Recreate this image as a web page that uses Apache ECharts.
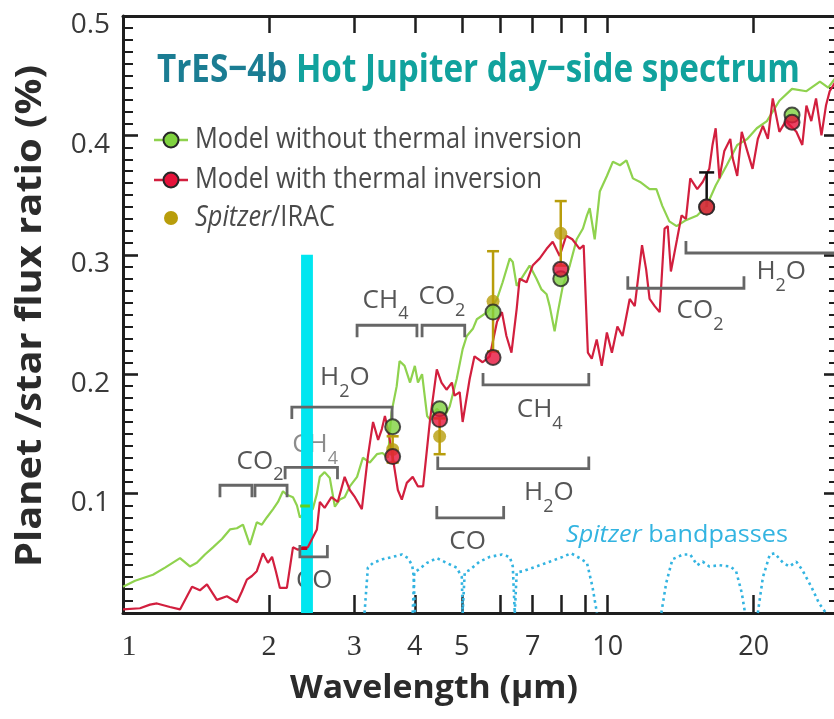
<!DOCTYPE html>
<html>
<head>
<meta charset="utf-8">
<script src="https://cdn.jsdelivr.net/npm/echarts@6/dist/echarts.min.js"></script>
<style>
  html, body { margin: 0; padding: 0; background: #fff; }
  #chart { width: 834px; height: 719px; }
</style>
</head>
<body>
<div id="chart"></div>
<script>
// ---- Model spectra: wavelength (µm) and planet/star flux ratio (%) ----
const noInvWl = [1.00, 1.059, 1.153, 1.221, 1.311, 1.374, 1.420, 1.476, 1.533, 1.600, 1.662, 1.718, 1.768, 1.827, 1.888, 1.934, 1.980, 2.040, 2.088, 2.138, 2.178, 2.242, 2.285, 2.317, 2.384, 2.463, 2.512, 2.547, 2.606, 2.671, 2.736, 2.801, 2.866, 2.937, 3.04, 3.125, 3.23, 3.34, 3.43, 3.52, 3.58, 3.67, 3.72, 3.81, 3.91, 4.00, 4.06, 4.14, 4.24, 4.30, 4.44, 4.61, 4.72, 4.88, 5.02, 5.12, 5.27, 5.37, 5.64, 5.91, 6.07, 6.28, 6.37, 6.49, 6.68, 6.90, 7.13, 7.30, 7.48, 7.59, 7.77, 7.89, 8.08, 8.35, 8.63, 8.89, 9.06, 9.18, 9.40, 9.63, 9.96, 10.25, 10.6, 10.93, 11.27, 11.66, 12.2, 12.6, 12.96, 13.4, 13.87, 14.5, 15.3, 16.0, 16.7, 17.6, 18.5, 19.4, 20.3, 21.3, 22.6, 24.0, 25.7, 27.4, 28.5, 30];
const noInvFlux = [0.022, 0.027, 0.032, 0.038, 0.046, 0.039, 0.042, 0.049, 0.055, 0.062, 0.070, 0.071, 0.074, 0.057, 0.076, 0.074, 0.080, 0.087, 0.093, 0.102, 0.099, 0.097, 0.090, 0.080, 0.085, 0.087, 0.100, 0.114, 0.118, 0.113, 0.089, 0.095, 0.097, 0.106, 0.114, 0.130, 0.126, 0.133, 0.134, 0.130, 0.168, 0.190, 0.211, 0.207, 0.193, 0.207, 0.193, 0.200, 0.165, 0.162, 0.171, 0.165, 0.173, 0.196, 0.221, 0.232, 0.238, 0.246, 0.252, 0.263, 0.277, 0.297, 0.294, 0.274, 0.282, 0.291, 0.280, 0.271, 0.267, 0.257, 0.236, 0.252, 0.274, 0.291, 0.313, 0.322, 0.333, 0.339, 0.313, 0.353, 0.366, 0.378, 0.375, 0.379, 0.364, 0.361, 0.355, 0.355, 0.341, 0.328, 0.324, 0.329, 0.333, 0.341, 0.358, 0.375, 0.392, 0.397, 0.406, 0.412, 0.429, 0.439, 0.437, 0.445, 0.440, 0.452];

const invWl = [1.00, 1.084, 1.137, 1.175, 1.250, 1.311, 1.388, 1.441, 1.490, 1.562, 1.638, 1.718, 1.759, 1.801, 1.845, 1.888, 1.944, 1.991, 2.030, 2.067, 2.107, 2.178, 2.242, 2.296, 2.350, 2.406, 2.512, 2.547, 2.606, 2.692, 2.773, 2.866, 2.937, 3.01, 3.11, 3.20, 3.28, 3.36, 3.42, 3.47, 3.52, 3.60, 3.69, 3.76, 3.85, 3.96, 4.06, 4.16, 4.30, 4.44, 4.54, 4.65, 4.77, 4.83, 4.95, 5.02, 5.19, 5.31, 5.52, 5.71, 5.91, 6.05, 6.18, 6.33, 6.49, 6.58, 6.80, 7.00, 7.24, 7.48, 7.70, 7.96, 8.21, 8.45, 8.75, 8.92, 9.10, 9.27, 9.49, 9.72, 9.96, 10.2, 10.47, 10.73, 11.1, 11.37, 11.77, 12.0, 12.2, 12.5, 12.8, 13.1, 13.3, 13.5, 13.9, 14.2, 14.5, 14.8, 15.3, 15.7, 16.2, 16.45, 16.7, 17.0, 17.4, 17.9, 18.1, 18.5, 18.9, 19.4, 19.9, 20.4, 20.9, 21.4, 21.9, 22.6, 23.3, 24.5, 25.2, 25.7, 26.3, 26.9, 27.6, 28.2, 28.7, 30];
const invFlux = [0.003, 0.004, 0.007, 0.008, 0.005, 0.003, 0.022, 0.019, 0.024, 0.011, 0.014, 0.009, 0.018, 0.028, 0.031, 0.035, 0.050, 0.042, 0.047, 0.035, 0.021, 0.021, 0.055, 0.053, 0.055, 0.055, 0.070, 0.093, 0.088, 0.097, 0.093, 0.114, 0.103, 0.097, 0.087, 0.131, 0.160, 0.145, 0.154, 0.165, 0.154, 0.131, 0.103, 0.095, 0.109, 0.114, 0.106, 0.106, 0.162, 0.204, 0.193, 0.187, 0.193, 0.182, 0.185, 0.160, 0.196, 0.215, 0.210, 0.215, 0.244, 0.252, 0.232, 0.218, 0.255, 0.280, 0.277, 0.291, 0.297, 0.305, 0.311, 0.299, 0.316, 0.313, 0.305, 0.308, 0.218, 0.213, 0.229, 0.207, 0.235, 0.218, 0.240, 0.232, 0.263, 0.257, 0.308, 0.288, 0.263, 0.257, 0.252, 0.322, 0.324, 0.286, 0.313, 0.333, 0.330, 0.364, 0.355, 0.361, 0.372, 0.392, 0.406, 0.364, 0.387, 0.397, 0.381, 0.366, 0.403, 0.387, 0.372, 0.397, 0.408, 0.397, 0.431, 0.403, 0.412, 0.403, 0.392, 0.425, 0.412, 0.431, 0.400, 0.425, 0.437, 0.450];

// ---- Band-averaged model points ----
const bandWl = [3.6, 4.5, 5.8, 8.0, 16, 24];
const bandNoInv = [0.156, 0.171, 0.252, 0.280, 0.340, 0.417];
const bandInv = [0.131, 0.162, 0.214, 0.288, 0.340, 0.411];

// ---- Spitzer/IRAC eclipse depths (%) with 1σ errors ----
const iracWl = [3.6, 4.5, 5.8, 8.0];
const iracFlux = [0.137, 0.148, 0.261, 0.318];
const iracErr = [0.011, 0.015, 0.042, 0.027];

// 16 µm point: upper error bar end (%)
const irsWl = 16;
const irsTop = 0.369;

// K-band window and model averages inside it
const kBand = [2.33, 2.465, 0.30];
const kNoInv = 0.0896;
const kInv = 0.054;

// ---- Spitzer bandpass shapes (scaled response) ----
const pass1Wl = [3.15, 3.20, 3.28, 3.43, 3.60, 3.76, 3.87, 3.95, 3.98, 4.00];
const pass1 = [0, 0.038, 0.042, 0.045, 0.047, 0.049, 0.046, 0.040, 0.030, 0];
const pass2Wl = [3.96, 3.99, 4.06, 4.24, 4.44, 4.65, 4.88, 5.00, 5.02];
const pass2 = [0, 0.034, 0.036, 0.042, 0.046, 0.042, 0.038, 0.030, 0];
const pass3Wl = [5.02, 5.07, 5.19, 5.44, 5.71, 6.05, 6.28, 6.37, 6.43];
const pass3 = [0, 0.034, 0.036, 0.043, 0.047, 0.049, 0.047, 0.039, 0];
const pass4Wl = [6.43, 6.49, 6.68, 7.13, 7.59, 8.08, 8.40, 8.75, 9.06, 9.30, 9.50];
const pass4 = [0, 0.034, 0.035, 0.039, 0.043, 0.047, 0.050, 0.046, 0.042, 0.022, 0];
const pass5Wl = [12.9, 13.2, 13.6, 14.3, 14.8, 15.3, 15.7, 16.2, 17.0, 17.9, 18.4, 18.9, 19.2];
const pass5 = [0, 0.025, 0.045, 0.049, 0.049, 0.040, 0.043, 0.039, 0.040, 0.039, 0.035, 0.017, 0];
const pass6Wl = [20.4, 20.9, 21.6, 22.1, 23.0, 23.7, 24.5, 25.2, 26.3, 27.3, 28.2];
const pass6 = [0, 0.030, 0.049, 0.050, 0.042, 0.039, 0.043, 0.036, 0.022, 0.008, 0];

// ---- Molecular absorption features: [label, from µm, to µm, level %, 1 = hooks down / -1 = hooks up] ----
const features = [
  ['CO_2', 1.585, 1.845, 0.107, 1],
  ['CO_2', 1.872, 2.18, 0.107, 1],
  ['CH_4', 2.16, 2.77, 0.122, 1],
  ['H_2O', 2.23, 3.59, 0.1725, 1],
  ['CH_4', 3.04, 4.04, 0.241, 1],
  ['CO_2', 4.14, 5.07, 0.241, 1],
  ['CH_4', 5.53, 9.14, 0.191, -1],
  ['H_2O', 4.46, 9.14, 0.121, -1],
  ['CO', 4.44, 6.1, 0.0796, -1],
  ['CO', 2.317, 2.64, 0.047, -1],
  ['CO_2', 11.0, 19.1, 0.272, -1],
  ['H_2O', 14.5, 31, 0.3015, -1]
];
// feature labels: [text, wavelength µm, flux %]
const featureLabels = [
  ['CO_2', 1.917, 0.127], ['CH_4', 2.49, 0.141], ['H_2O', 2.87, 0.197],
  ['CH_4', 3.48, 0.262], ['CO_2', 4.55, 0.265], ['CH_4', 7.24, 0.170],
  ['H_2O', 7.56, 0.1005], ['CO', 5.14, 0.0595], ['CO', 2.48, 0.027],
  ['CO_2', 15.5, 0.253], ['H_2O', 22.8, 0.286]
];

// ---- Axis ticks and labels ----
const xTicks = [2, 3, 4, 5, 6, 7, 8, 9, 10, 20, 30];
const xLabels = [1, 2, 3, 4, 5, 7, 10, 20];

const FONT = '"Open Sans", "Noto Sans", sans-serif';
const GREEN = '#8fd24e';
const RED = '#d21f3e';
const OLIVE = '#b89d0b';
const CYAN = '#00e6f0';
const PASS = '#33b4e1';
const GRAY = '#666666';
const INK = '#1e1e1e';

const zip = (a, b) => a.map((v, i) => [v, b[i]]);

const chart = echarts.init(document.getElementById('chart'), null, { renderer: 'canvas' });

function passSeries(wl, resp) {
  return {
    type: 'line', data: zip(wl, resp), symbol: 'none', silent: true, z: 2,
    lineStyle: { color: PASS, width: 2.6, type: [2.6, 3.6], cap: 'butt' }
  };
}

function errRender(color, capHalf) {
  return function (params, api) {
    const x = api.value(0), lo = api.value(1), hi = api.value(2), lowCap = api.value(3);
    const p0 = api.coord([x, lo]), p1 = api.coord([x, hi]);
    const st = { stroke: color, lineWidth: 2.5 };
    const kids = [
      { type: 'line', shape: { x1: p0[0], y1: p0[1], x2: p1[0], y2: p1[1] }, style: st },
      { type: 'line', shape: { x1: p1[0] - capHalf, y1: p1[1], x2: p1[0] + capHalf, y2: p1[1] }, style: st }
    ];
    if (lowCap) kids.push({ type: 'line', shape: { x1: p0[0] - capHalf, y1: p0[1], x2: p0[0] + capHalf, y2: p0[1] }, style: st });
    return { type: 'group', children: kids };
  };
}

function yAxisOf(position, labels) {
  return {
    type: 'value', min: 0, max: 0.5, interval: 0.1, position: position,
    axisLine: { show: true, onZero: false, lineStyle: { color: INK, width: 3 } },
    axisTick: { show: true, inside: true, length: 15, lineStyle: { color: INK, width: 2.6 } },
    minorTick: { show: true, splitNumber: 10, length: 10, lineStyle: { color: INK, width: 2 } },
    splitLine: { show: false }, minorSplitLine: { show: false },
    axisLabel: labels
  };
}
function xAxisOf(position, tickLen, labels) {
  return {
    type: 'log', logBase: 10, min: 1, max: 30, position: position,
    axisLine: { show: true, onZero: false, lineStyle: { color: INK, width: 3 } },
    axisTick: { show: true, inside: true, length: tickLen, customValues: xTicks, lineStyle: { color: INK, width: 2.5 } },
    minorTick: { show: false }, splitLine: { show: false }, minorSplitLine: { show: false },
    axisLabel: labels
  };
}

chart.setOption({
  animation: false,
  grid: { left: 123, right: -5, top: 16, bottom: 106, containLabel: false, outerBoundsMode: 'none' },
  xAxis: [
    xAxisOf('bottom', 18, {
      show: true, customValues: xLabels, margin: 19,
      formatter: v => {
        const n = Math.round(v * 1000) / 1000;
        if (n === 1) return '{one|1}';
        return n <= 3 ? '{serif|' + n + '}' : '{sans|' + n + '}';
      },
      rich: {
        one: { fontFamily: '"Liberation Serif", serif', fontSize: 30, color: '#333', lineHeight: 30, padding: [0, 0, 0, 12] },
        serif: { fontFamily: '"Liberation Serif", serif', fontSize: 30, color: '#333', lineHeight: 30 },
        sans: { fontFamily: FONT, fontSize: 27, color: '#333', lineHeight: 30 }
      }
    }),
    xAxisOf('top', 17, { show: false })
  ],
  yAxis: [
    yAxisOf('left', {
      show: true, margin: 13,
      formatter: v => (v === 0 ? '' : '{v|' + v.toFixed(1) + '}'),
      rich: {
        // labels hang just below their ticks
        v: { fontFamily: FONT, fontSize: 28, color: '#3a3a3a', lineHeight: 28, padding: [19, 0, 0, 0] }
      }
    }),
    yAxisOf('right', { show: false })
  ],
  series: [
    passSeries(pass1Wl, pass1), passSeries(pass2Wl, pass2), passSeries(pass3Wl, pass3),
    passSeries(pass4Wl, pass4), passSeries(pass5Wl, pass5), passSeries(pass6Wl, pass6),
    {
      name: 'Model without thermal inversion', type: 'line', data: zip(noInvWl, noInvFlux),
      symbol: 'none', z: 3, lineStyle: { color: GREEN, width: 2.2 }
    },
    {
      // K-band window
      type: 'custom', z: 4, silent: true, data: [kBand],
      encode: { x: [0, 1], y: 2 },
      renderItem: (params, api) => {
        const a = api.coord([api.value(0), api.value(2)]);
        const b = api.coord([api.value(1), 0]);
        return { type: 'rect', shape: { x: a[0], y: a[1], width: b[0] - a[0], height: b[1] - a[1] }, style: { fill: CYAN } };
      }
    },
    {
      type: 'line', z: 5, symbol: 'none', silent: true,
      data: [[2.32, kNoInv], [2.43, kNoInv]], lineStyle: { color: '#5ed11c', width: 3 }
    },
    {
      name: 'Model with thermal inversion', type: 'line', data: zip(invWl, invFlux),
      symbol: 'none', z: 5, lineStyle: { color: RED, width: 2.2 }
    },
    {
      type: 'line', z: 5, symbol: 'none', silent: true,
      data: [[2.32, kInv], [2.40, kInv]], lineStyle: { color: '#c8001c', width: 3.2 }
    },
    {
      // molecular feature brackets
      type: 'custom', z: 6, silent: true,
      data: features.map(f => [f[1], f[2], f[3], f[4]]),
      encode: { x: [0, 1], y: 2 },
      renderItem: (params, api) => {
        const a = api.coord([api.value(0), api.value(2)]);
        const b = api.coord([api.value(1), api.value(2)]);
        const h = 12 * api.value(3);
        return {
          type: 'polyline',
          shape: { points: [[a[0], a[1] + h], [a[0], a[1]], [b[0], b[1]], [b[0], b[1] + h]] },
          style: { stroke: GRAY, lineWidth: 2.8, fill: null }
        };
      }
    },
    {
      type: 'custom', z: 7, silent: true,
      data: iracWl.map((w, i) => [w, iracFlux[i] - iracErr[i], iracFlux[i] + iracErr[i], 1]),
      encode: { x: 0, y: [1, 2] },
      renderItem: errRender(OLIVE, 6)
    },
    {
      name: 'Spitzer/IRAC', type: 'scatter', z: 7, data: zip(iracWl, iracFlux),
      symbol: 'circle', symbolSize: 13, itemStyle: { color: OLIVE }
    },
    {
      type: 'custom', z: 7, silent: true,
      data: [[irsWl, bandInv[4], irsTop, 0]],
      encode: { x: 0, y: [1, 2] },
      renderItem: errRender('#111', 7.5)
    },
    {
      type: 'scatter', z: 8, data: zip(bandWl, bandNoInv), symbol: 'circle', symbolSize: 15,
      itemStyle: { color: '#7fd23f', borderColor: '#262626', borderWidth: 2 }
    },
    {
      type: 'scatter', z: 9, data: zip(bandWl, bandInv), symbol: 'circle', symbolSize: 15,
      itemStyle: { color: '#e6133b', borderColor: '#262626', borderWidth: 2 }
    }
  ]
});

// ---- Text helpers: runs of pieces (subscripts, italics, colours), optionally squeezed to a width ----
const measureCtx = document.createElement('canvas').getContext('2d');
function fontOf(p) {
  return (p.italic ? 'italic ' : 'normal ') + (p.bold ? 'bold ' : 'normal ') + p.size + 'px ' + (p.family || FONT);
}
function textGroup(pieces, opt) {
  let cursor = 0;
  const kids = pieces.map(p => {
    const font = fontOf(p);
    measureCtx.font = font;
    const w = measureCtx.measureText(p.text).width;
    const el = {
      type: 'text', x: cursor, y: p.dy || 0, silent: true,
      style: { text: p.text, font: font, fill: p.color, align: 'left', verticalAlign: 'middle', textAlign: 'left', textVerticalAlign: 'middle' }
    };
    cursor += w;
    return el;
  });
  const total = cursor;
  if (opt.anchor === 'center') kids.forEach(el => { el.x -= total / 2; });
  return {
    type: 'group', x: opt.x, y: opt.y, rotation: opt.rotation || 0,
    scaleX: opt.width ? opt.width / total : 1, scaleY: 1,
    children: kids, silent: true, z: 100
  };
}
function moleculePieces(name, color) {
  const parts = name.split(/_(\d)/);
  const out = [];
  parts.forEach((s, i) => {
    if (!s) return;
    if (i % 2 === 0) out.push({ text: s, size: 26, color: color });
    else out.push({ text: s, size: 18, color: color, dy: 14 });
  });
  return out;
}

const graphics = [];
const toPx = (x, y) => chart.convertToPixel({ xAxisIndex: 0, yAxisIndex: 0 }, [x, y]);

// title
graphics.push(textGroup([
  { text: 'TrES\u22124b', bold: true, size: 40, color: '#1b7d93' },
  { text: ' Hot Jupiter day\u2212side spectrum', bold: true, size: 40, color: '#11a29d' }
], { x: 157, y: 71, width: 643 }));

// legend
const legendRows = [
  { y: 140, color: '#7fd23f', line: GREEN, border: true, pieces: [{ text: 'Model without thermal inversion' }], width: 387 },
  { y: 180, color: '#e6133b', line: RED, border: true, pieces: [{ text: 'Model with thermal inversion' }], width: 347 },
  { y: 218, color: OLIVE, line: null, border: false, pieces: [{ text: 'Spitzer', italic: true }, { text: '/IRAC' }], width: 140 }
];
legendRows.forEach(r => {
  if (r.line) {
    graphics.push({ type: 'line', shape: { x1: 154, y1: r.y, x2: 188, y2: r.y }, style: { stroke: r.line, lineWidth: 2.5 }, silent: true, z: 100 });
  }
  graphics.push({
    type: 'circle', shape: { cx: 171, cy: r.y, r: r.border ? 7.5 : 7 },
    style: { fill: r.color, stroke: r.border ? '#262626' : null, lineWidth: 2 }, silent: true, z: 101
  });
  graphics.push(textGroup(r.pieces.map(p => Object.assign({ size: 30, color: '#4a4a4a' }, p)), { x: 195, y: r.y - 1, width: r.width }));
});

// axis titles
graphics.push(textGroup([{ text: 'Planet /star flux ratio (%)', bold: true, size: 35, color: '#2b2b2b' }],
  { x: 31, y: 316, rotation: Math.PI / 2, anchor: 'center', width: 502 }));
graphics.push(textGroup([{ text: 'Wavelength (\u00b5m)', bold: true, size: 32, color: '#2b2b2b' }],
  { x: 434, y: 689, anchor: 'center', width: 288 }));

// bandpass caption
graphics.push(textGroup([
  { text: 'Spitzer', italic: true, size: 24, color: PASS },
  { text: ' bandpasses', size: 24, color: PASS }
], { x: 566, y: 535, width: 222 }));

// molecule labels placed through the axes' own scales
featureLabels.forEach((lab, i) => {
  const p = toPx(lab[1], lab[2]);
  const color = i === 1 ? '#8c8c8c' : '#555555';
  graphics.push(textGroup(moleculePieces(lab[0], color), { x: p[0], y: p[1], anchor: 'center' }));
});

chart.setOption({ graphic: graphics });
</script>
</body>
</html>
